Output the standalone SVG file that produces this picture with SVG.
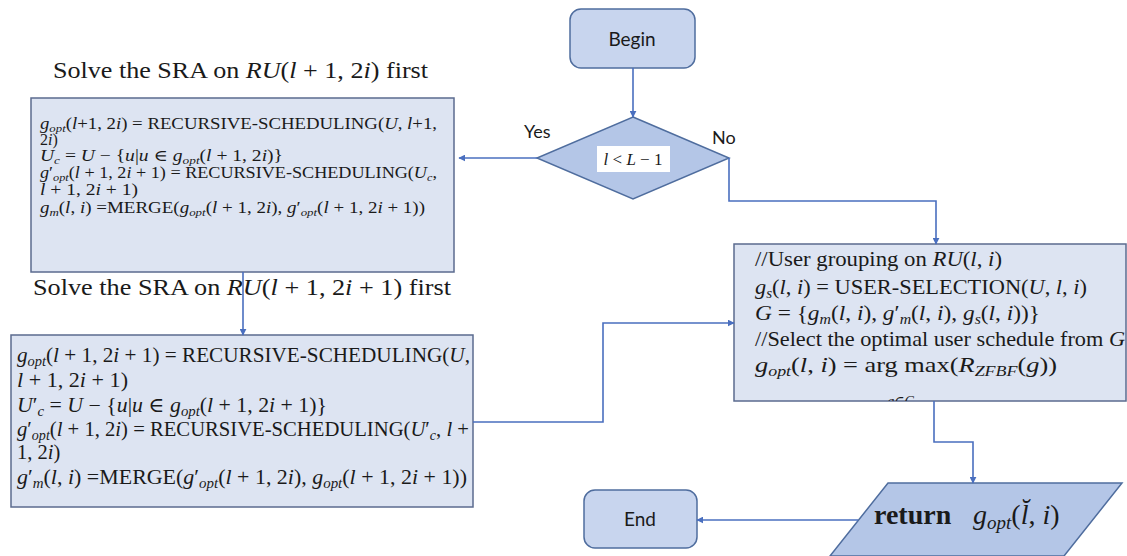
<svg xmlns="http://www.w3.org/2000/svg" width="1127" height="556" viewBox="0 0 1127 556">
  <defs>
    <style>
      .m { font-family: "Liberation Serif", "DejaVu Serif", serif; fill: #1a1a1a; }
      .i { font-style: italic; }
      .s { font-size: 68%; baseline-shift: -0.28em; }
      .ui { font-family: Lato, "Open Sans", "Liberation Sans", sans-serif; fill: #1a1a1a; }
      .box { fill: #dde4f2; stroke: #5b6b8f; stroke-width: 1.5; }
      .term { fill: #c8d5ee; stroke: #4f6d9e; stroke-width: 1.5; }
      .shape { fill: #b4c6e7; stroke: #4f6d9e; stroke-width: 1.5; }
      .conn { fill: none; stroke: #4a6fbf; stroke-width: 1.6; marker-end: url(#arrow); }
    </style>
    <marker id="arrow" viewBox="0 0 10 10" refX="9" refY="5" markerWidth="7" markerHeight="7" markerUnits="userSpaceOnUse" orient="auto">
      <path d="M0,0 L10,5 L0,10 Z" fill="#4a6fbf"/>
    </marker>
    <clipPath id="clipRight">
      <rect x="734" y="244" width="393" height="157"/>
    </clipPath>
  </defs>

  <rect width="1127" height="556" fill="#ffffff"/>

  <!-- captions above the two left blocks -->
  <g id="caption-top">
    <text class="m" x="53" y="78" font-size="23" textLength="375" lengthAdjust="spacingAndGlyphs">Solve the SRA on <tspan class="i">RU</tspan>(<tspan class="i">l</tspan> + 1, 2<tspan class="i">i</tspan>) first</text>
  </g>
  <g id="caption-bottom">
    <text class="m" x="33" y="295" font-size="23" textLength="418" lengthAdjust="spacingAndGlyphs">Solve the SRA on <tspan class="i">RU</tspan>(<tspan class="i">l</tspan> + 1, 2<tspan class="i">i</tspan> + 1) first</text>
  </g>

  <!-- start terminal -->
  <g id="begin">
    <rect class="term" x="570" y="9" width="125" height="59" rx="11"/>
    <text class="ui" x="632" y="46" font-size="19" text-anchor="middle">Begin</text>
  </g>

  <!-- decision -->
  <g id="decision">
    <polygon class="shape" points="633,117 729,158 633,199 537,158"/>
    <rect x="597" y="146" width="73" height="26" fill="#ffffff"/>
    <text class="m" x="633" y="165" font-size="17" text-anchor="middle"><tspan class="i">l</tspan> &lt; <tspan class="i">L</tspan> − 1</text>
  </g>

  <!-- branch labels -->
  <g id="label-yes">
    <text class="ui" x="524" y="138" font-size="18">Yes</text>
  </g>
  <g id="label-no">
    <text class="ui" x="712" y="144" font-size="18">No</text>
  </g>

  <!-- recursion on the left child first -->
  <g id="left-first">
    <rect class="box" x="31" y="98" width="423" height="174"/>
    <g class="m" font-size="16">
      <text x="40" y="129" textLength="397" lengthAdjust="spacingAndGlyphs"><tspan class="i">g</tspan><tspan class="s i">opt</tspan>(<tspan class="i">l</tspan>+1, 2<tspan class="i">i</tspan>) = RECURSIVE-SCHEDULING(<tspan class="i">U</tspan>, <tspan class="i">l</tspan>+1,</text>
      <text x="40" y="145">2<tspan class="i">i</tspan>)</text>
      <text x="40" y="161" textLength="243" lengthAdjust="spacingAndGlyphs"><tspan class="i">U</tspan><tspan class="s i">c</tspan> = <tspan class="i">U</tspan> − {<tspan class="i">u</tspan>|<tspan class="i">u</tspan> ∈ <tspan class="i">g</tspan><tspan class="s i">opt</tspan>(<tspan class="i">l</tspan> + 1, 2<tspan class="i">i</tspan>)}</text>
      <text x="40" y="178" textLength="397" lengthAdjust="spacingAndGlyphs"><tspan class="i">g</tspan>′<tspan class="s i">opt</tspan>(<tspan class="i">l</tspan> + 1, 2<tspan class="i">i</tspan> + 1) = RECURSIVE-SCHEDULING(<tspan class="i">U</tspan><tspan class="s i">c</tspan>,</text>
      <text x="40" y="195" textLength="98" lengthAdjust="spacingAndGlyphs"><tspan class="i">l</tspan> + 1, 2<tspan class="i">i</tspan> + 1)</text>
      <text x="40" y="213" textLength="385" lengthAdjust="spacingAndGlyphs"><tspan class="i">g</tspan><tspan class="s i">m</tspan>(<tspan class="i">l</tspan>, <tspan class="i">i</tspan>) =MERGE(<tspan class="i">g</tspan><tspan class="s i">opt</tspan>(<tspan class="i">l</tspan> + 1, 2<tspan class="i">i</tspan>), <tspan class="i">g</tspan>′<tspan class="s i">opt</tspan>(<tspan class="i">l</tspan> + 1, 2<tspan class="i">i</tspan> + 1))</text>
    </g>
  </g>

  <!-- recursion on the right child first -->
  <g id="right-first">
    <rect class="box" x="11" y="335" width="462" height="172"/>
    <g class="m" font-size="20.5">
      <text x="17" y="362" textLength="453" lengthAdjust="spacingAndGlyphs"><tspan class="i">g</tspan><tspan class="s i">opt</tspan>(<tspan class="i">l</tspan> + 1, 2<tspan class="i">i</tspan> + 1) = RECURSIVE-SCHEDULING(<tspan class="i">U</tspan>,</text>
      <text x="17" y="387" textLength="111" lengthAdjust="spacingAndGlyphs"><tspan class="i">l</tspan> + 1, 2<tspan class="i">i</tspan> + 1)</text>
      <text x="17" y="412" textLength="310" lengthAdjust="spacingAndGlyphs"><tspan class="i">U</tspan>′<tspan class="s i">c</tspan> = <tspan class="i">U</tspan> − {<tspan class="i">u</tspan>|<tspan class="i">u</tspan> ∈ <tspan class="i">g</tspan><tspan class="s i">opt</tspan>(<tspan class="i">l</tspan> + 1, 2<tspan class="i">i</tspan> + 1)}</text>
      <text x="17" y="436" textLength="452" lengthAdjust="spacingAndGlyphs"><tspan class="i">g</tspan>′<tspan class="s i">opt</tspan>(<tspan class="i">l</tspan> + 1, 2<tspan class="i">i</tspan>) = RECURSIVE-SCHEDULING(<tspan class="i">U</tspan>′<tspan class="s i">c</tspan>, <tspan class="i">l</tspan> +</text>
      <text x="17" y="459">1, 2<tspan class="i">i</tspan>)</text>
      <text x="17" y="484" textLength="450" lengthAdjust="spacingAndGlyphs"><tspan class="i">g</tspan>′<tspan class="s i">m</tspan>(<tspan class="i">l</tspan>, <tspan class="i">i</tspan>) =MERGE(<tspan class="i">g</tspan>′<tspan class="s i">opt</tspan>(<tspan class="i">l</tspan> + 1, 2<tspan class="i">i</tspan>), <tspan class="i">g</tspan><tspan class="s i">opt</tspan>(<tspan class="i">l</tspan> + 1, 2<tspan class="i">i</tspan> + 1))</text>
    </g>
  </g>

  <!-- grouping and selection at the current node -->
  <g id="select">
    <rect class="box" x="734" y="244" width="392" height="157"/>
    <g class="m" font-size="22" clip-path="url(#clipRight)">
      <text x="755" y="266" textLength="247" lengthAdjust="spacingAndGlyphs">//User grouping on <tspan class="i">RU</tspan>(<tspan class="i">l</tspan>, <tspan class="i">i</tspan>)</text>
      <text x="755" y="294" textLength="332" lengthAdjust="spacingAndGlyphs"><tspan class="i">g</tspan><tspan class="s i">s</tspan>(<tspan class="i">l</tspan>, <tspan class="i">i</tspan>) = USER-SELECTION(<tspan class="i">U</tspan>, <tspan class="i">l</tspan>, <tspan class="i">i</tspan>)</text>
      <text x="755" y="320" textLength="285" lengthAdjust="spacingAndGlyphs"><tspan class="i">G</tspan> = {<tspan class="i">g</tspan><tspan class="s i">m</tspan>(<tspan class="i">l</tspan>, <tspan class="i">i</tspan>), <tspan class="i">g</tspan>′<tspan class="s i">m</tspan>(<tspan class="i">l</tspan>, <tspan class="i">i</tspan>), <tspan class="i">g</tspan><tspan class="s i">s</tspan>(<tspan class="i">l</tspan>, <tspan class="i">i</tspan>))}</text>
      <text x="755" y="346" textLength="370" lengthAdjust="spacingAndGlyphs">//Select the optimal user schedule from <tspan class="i">G</tspan></text>
      <text x="755" y="372" textLength="302" lengthAdjust="spacingAndGlyphs"><tspan class="i">g</tspan><tspan class="s i">opt</tspan>(<tspan class="i">l</tspan>, <tspan class="i">i</tspan>) = arg max(<tspan class="i">R</tspan><tspan class="s i">ZFBF</tspan>(<tspan class="i">g</tspan>))</text>
      <text x="901" y="406" font-size="14" class="i" text-anchor="middle">g∈G</text>
    </g>
  </g>

  <!-- output -->
  <g id="return">
    <polygon class="shape" points="888,483 1122,483 1064,556 830,556"/>
    <text class="m" x="874" y="524" font-size="28" font-weight="bold" fill="#1f2a44">return</text>
    <text class="m" x="973" y="524" font-size="28"><tspan class="i">g</tspan><tspan class="s i">opt</tspan>(<tspan class="i">l̆</tspan>, <tspan class="i">i</tspan>)</text>
  </g>

  <!-- end terminal -->
  <g id="end">
    <rect class="term" x="584" y="490" width="113" height="58" rx="11"/>
    <text class="ui" x="640" y="526" font-size="19" text-anchor="middle">End</text>
  </g>

  <!-- connectors -->
  <g id="connectors">
    <path class="conn" d="M633,68 V117"/>
    <path class="conn" d="M537,158 H459"/>
    <path class="conn" d="M729,158 V201 H936 V244"/>
    <path class="conn" d="M243,272 V335"/>
    <path class="conn" d="M473,422 H603 V323 H734"/>
    <path class="conn" d="M934,401 V442 H973 V483"/>
    <path class="conn" d="M858,520 H697"/>
  </g>
</svg>
